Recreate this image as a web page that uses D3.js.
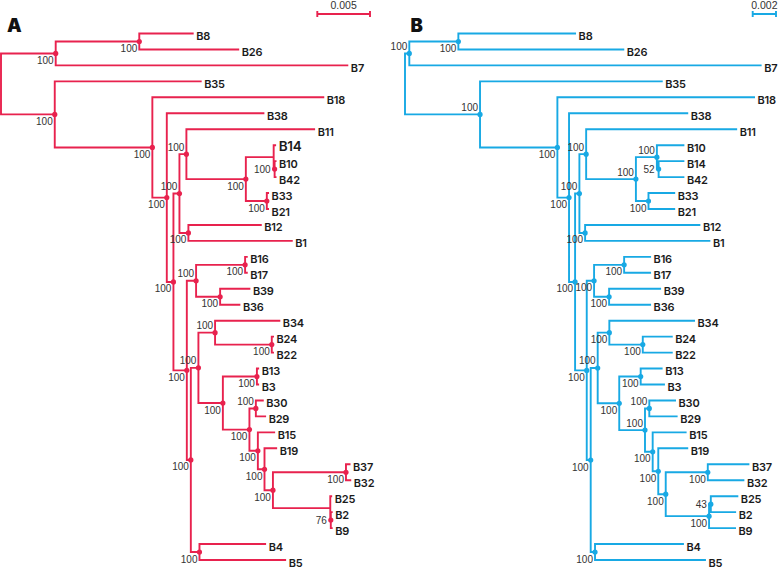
<!DOCTYPE html>
<html><head><meta charset="utf-8">
<script src="https://cdn.jsdelivr.net/npm/d3@7"></script>
<style>
html,body{margin:0;padding:0;background:#fff;}
svg{display:block;}
</style></head>
<body>
<svg id="chart" width="778" height="569"></svg>
<script>
// ---------- DATA ----------
const panelLabels = ["A", "B"];
const treeColors = ["#e8224e", "#18a9e4"];
const scaleBarValues = [0.005, 0.002];
const scaleBarTexts = ["0.005", "0.002"];

// Newick trees: branch lengths (substitutions/site) and bootstrap supports
const newickA = "(((B8:0.00507,B26:0.00939)100:0.00793,B7:0.02767)100:0.00519,(B35:0.01385,(B18:0.01622,(B38:0.00917,(((B11:0.01212,((B14:0.00014,(B10:0.00009,B42:0.00009)100:0.00009):0.00264,(B33:0.00012,B21:0.00012)100:0.00199)100:0.00564)100:0.00066,(B12:0.00687,B1:0.00981)100:0.00085)100:0.00057,(((B16:0.00016,B17:0.00016)100:0.00465,(B39:0.00278,B36:0.00183)100:0.00228)100:0.00088,(((B34:0.00610,(B24:0.00012,B22:0.00012)100:0.00538)100:0.00158,((B13:0.00012,B3:0.00012)100:0.00323,((B30:0.00066,B29:0.00088)100:0.00061,(B15:0.00155,(B19:0.00111,((B37:0.00034,B32:0.00041)100:0.00693,(B25:0.00009,(B2:0.00009,B9:0.00009)76:0.00005):0.00544)100:0.00080)100:0.00063)100:0.00080)100:0.00252)100:0.00232)100:0.00072,(B4:0.00623,B5:0.00813)100:0.00082)100:0.00038)100:0.00127)100:0.00063)100:0.00137)100:0.00926)100:0.00510);";
const newickB = "(((B8:0.01002,B26:0.01416)100:0.00421,B7:0.03016)100:0.00037,(B35:0.01560,(B18:0.01688,(B38:0.01015,(((B11:0.01288,((B10:0.00228,(B14:0.00213,B42:0.00213)52:0.00015)100:0.00180,(B33:0.00221,B21:0.00221)100:0.00108)100:0.00427)100:0.00058,(B12:0.00981,B1:0.01067)100:0.00049)100:0.00037,(((B16:0.00223,B17:0.00223)100:0.00258,(B39:0.00438,B36:0.00352)100:0.00129)100:0.00063,(((B34:0.00727,(B24:0.00249,B22:0.00249)100:0.00287)100:0.00100,((B13:0.00180,B3:0.00200)100:0.00184,((B30:0.00221,B29:0.00235)100:0.00037,(B15:0.00283,(B19:0.00249,((B37:0.00349,B32:0.00306)100:0.00361,((B25:0.00228,B2:0.00209)43:0.00015,B9:0.00223)100:0.00372)100:0.00064)100:0.00048)100:0.00066)100:0.00221)100:0.00185)100:0.00060,(B4:0.00755,B5:0.00944)100:0.00037)100:0.00034)100:0.00100)100:0.00052)100:0.00100)100:0.00664)100:0.00644);";

// support-label placement (clade keyed by first-last leaf); default is below-left
const supportAboveA = ["B11-B1", "B11-B21", "B16-B36", "B34-B9", "B34-B22", "B30-B29"];
const supportLeftA = ["B10-B42", "B2-B9"];
const supportAboveB = ["B8-B7", "B35-B5", "B11-B1", "B11-B21", "B10-B21", "B10-B42", "B34-B9", "B30-B9", "B30-B29"];
const supportLeftB = ["B14-B42", "B25-B2"];
const largeLeavesA = ["B14"];

// ---------- PARSER ----------
function parseNewick(s) {
  let i = 0;
  function node() {
    const n = {};
    if (s[i] === "(") {
      n.children = [];
      i++;
      n.children.push(node());
      while (s[i] === ",") { i++; n.children.push(node()); }
      i++;
    }
    let name = "";
    while (i < s.length && !":,);".includes(s[i])) name += s[i++];
    n.name = name;
    n.length = 0;
    if (s[i] === ":") {
      i++;
      let num = "";
      while (i < s.length && !",);".includes(s[i])) num += s[i++];
      n.length = +num;
    }
    return n;
  }
  return node();
}

// ---------- DRAW ----------
const svg = d3.select("#chart");
const leafCount = 34;
const yScale = d3.scaleLinear().domain([0, leafCount - 1]).range([33.5, 560]);

function drawTree(cfg) {
  const root = d3.hierarchy(parseNewick(cfg.newick));
  root.eachBefore(d => { d.dist = d.parent ? d.parent.dist + d.data.length : 0; });
  const x = d3.scaleLinear().domain([0, cfg.barValue]).range([cfg.x0, cfg.x0 + cfg.barPx]);
  root.leaves().forEach((l, i) => { l.py = yScale(i); });
  root.eachAfter(d => {
    if (d.children) d.py = (d.children[0].py + d.children[d.children.length - 1].py) / 2;
    d.px = x(d.dist);
  });

  const g = svg.append("g");
  const segs = [];
  root.each(d => {
    if (d.parent) segs.push(`M${d.parent.px},${d.py}H${d.px}`);
    if (d.children) segs.push(`M${d.px},${d.children[0].py}V${d.children[d.children.length - 1].py}`);
  });
  g.append("path").attr("d", segs.join(""))
    .attr("fill", "none").attr("stroke", cfg.color)
    .attr("stroke-width", 1.9).attr("stroke-linecap", "square");

  const supported = root.descendants().filter(d => d.children && d.data.name !== "");
  g.selectAll("circle.node").data(supported).join("circle")
    .attr("cx", d => d.px).attr("cy", d => d.py).attr("r", 2.6).attr("fill", cfg.color);

  const key = d => { const lv = d.leaves(); return lv[0].data.name + "-" + lv[lv.length - 1].data.name; };
  g.selectAll("text.sup").data(supported).join("text")
    .attr("class", "sup")
    .attr("x", d => cfg.left.includes(key(d)) ? d.px - 4 : d.px - 2)
    .attr("y", d => cfg.above.includes(key(d)) ? d.py - 3.5 : (cfg.left.includes(key(d)) ? d.py + 3.5 : d.py + 10.5))
    .attr("text-anchor", "end")
    .attr("font-family", "'Liberation Sans', Arial, sans-serif")
    .attr("font-size", 10).attr("fill", "#333")
    .text(d => d.data.name);

  g.selectAll("text.leaf").data(root.leaves()).join("text")
    .attr("class", "leaf")
    .attr("x", d => d.px + 3.5)
    .attr("y", d => d.py + (cfg.large.includes(d.data.name) ? 5.5 : 6.5))
    .attr("font-family", "Inter, 'Liberation Sans', sans-serif")
    .attr("font-weight", 600)
    .attr("font-size", d => cfg.large.includes(d.data.name) ? 13.5 : 11)
    .attr("letter-spacing", -0.2)
    .attr("fill", "#1b1b1b")
    .text(d => d.data.name);

  // scale bar
  const barLen = x(cfg.barValue) - x(0);
  const sb = svg.append("g");
  sb.append("path")
    .attr("d", `M${cfg.barX},14H${cfg.barX + barLen}M${cfg.barX},11V17M${cfg.barX + barLen},11V17`)
    .attr("stroke", cfg.color).attr("stroke-width", 1.9).attr("fill", "none");
  sb.append("text").attr("x", cfg.barX + barLen / 2).attr("y", 8.8)
    .attr("text-anchor", "middle")
    .attr("font-family", "'Liberation Sans', Arial, sans-serif")
    .attr("font-size", 10.5).attr("fill", "#333")
    .text(cfg.barText);

  svg.append("text").attr("x", cfg.labelX).attr("y", 32.3)
    .attr("font-family", "Inter, Lato, sans-serif").attr("font-weight", 900)
    .attr("font-size", 18.5).attr("fill", "#111")
    .text(cfg.panel);
}

drawTree({ newick: newickA, color: treeColors[0], barValue: scaleBarValues[0], barText: scaleBarTexts[0],
  x0: 1, barPx: 52.7, barX: 317.3, above: supportAboveA, left: supportLeftA, large: largeLeavesA,
  panel: panelLabels[0], labelX: 7 });
drawTree({ newick: newickB, color: treeColors[1], barValue: scaleBarValues[1], barText: scaleBarTexts[1],
  x0: 405, barPx: 23.3, barX: 752.7, above: supportAboveB, left: supportLeftB, large: [],
  panel: panelLabels[1], labelX: 410.5 });
</script>
</body></html>
